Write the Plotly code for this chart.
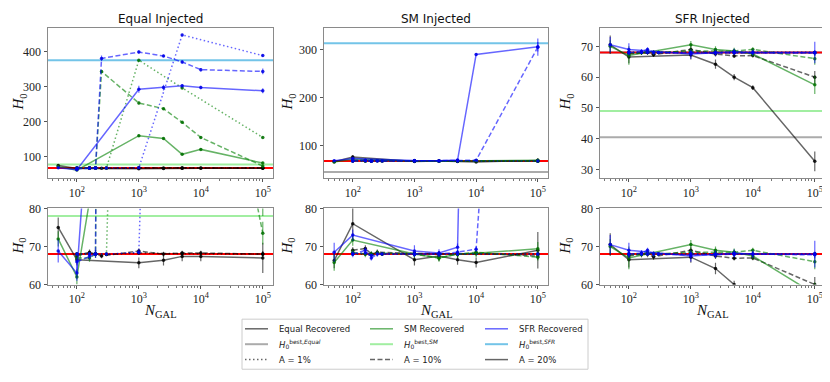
import plotly.graph_objects as go

# N_GAL sampled for each amplitude
N_A1 = [100, 160, 200, 300, 1000, 5000, 100000]
N_A10 = [100, 160, 200, 250, 1000, 2500, 5000, 10000, 100000]
N_A20 = [50, 100, 1000, 2500, 5000, 10000, 100000]

# ---- Equal injected
eq_equal_a1 = [68.0, 68.2, 68.0, 67.9, 68.3, 68.1, 68.0]
eq_equal_a1_err = [0.4, 0.4, 0.4, 0.4, 0.5, 0.4, 0.5]
eq_equal_a10 = [67.5, 68.5, 68.0, 67.5, 68.8, 68.0, 68.3, 68.3, 68.0]
eq_equal_a10_err = [0.8, 0.7, 0.6, 0.6, 0.7, 0.6, 0.6, 0.6, 0.8]
eq_equal_a20 = [75.0, 66.5, 65.7, 66.4, 67.4, 67.4, 67.0]
eq_equal_a20_err = [2.6, 1.5, 1.4, 1.4, 1.3, 1.3, 4.0]
eq_sm_a1 = [68.0, 68.0, 68.1, 68.0, 375.0, 296.0, 155.0]
eq_sm_a1_err = [0.4, 0.4, 0.4, 0.4, 3.0, 3.0, 3.0]
eq_sm_a10 = [67.0, 67.0, 68.0, 343.0, 253.0, 237.0, 198.0, 155.0, 73.5]
eq_sm_a10_err = [1.0, 1.0, 1.0, 4.0, 4.0, 3.0, 3.0, 3.0, 3.0]
eq_sm_a20 = [72.0, 62.0, 160.0, 152.0, 107.0, 121.0, 82.0]
eq_sm_a20_err = [2.0, 2.0, 4.0, 3.0, 3.0, 3.0, 4.0]
eq_sfr_a1 = [68.0, 68.1, 68.0, 68.0, 68.5, 447.0, 388.0]
eq_sfr_a1_err = [0.4, 0.4, 0.4, 0.4, 0.6, 3.0, 4.0]
eq_sfr_a10 = [66.0, 67.5, 68.0, 380.0, 398.0, 387.0, 370.0, 348.0, 343.0]
eq_sfr_a10_err = [1.0, 1.0, 1.0, 8.0, 5.0, 4.0, 5.0, 5.0, 8.0]
eq_sfr_a20 = [68.8, 63.0, 292.0, 297.0, 302.0, 297.0, 288.0]
eq_sfr_a20_err = [3.0, 2.0, 10.0, 8.0, 5.0, 5.0, 7.0]

# ---- SM injected
sm_equal_a1 = [68.2, 68.0, 67.8, 68.0, 68.0, 68.0, 68.0]
sm_equal_a1_err = [0.4, 0.4, 0.4, 0.4, 0.4, 0.4, 0.5]
sm_equal_a10 = [69.0, 69.5, 68.0, 68.5, 68.2, 68.0, 68.0, 68.2, 67.5]
sm_equal_a10_err = [0.8, 0.8, 0.7, 0.7, 0.7, 0.7, 0.7, 0.7, 0.9]
sm_equal_a20 = [66.3, 76.0, 66.5, 67.5, 66.5, 65.8, 69.0]
sm_equal_a20_err = [2.0, 4.5, 1.5, 1.3, 1.3, 1.3, 4.8]
sm_sm_a1 = [68.0, 68.1, 67.9, 68.0, 68.0, 68.0, 68.0]
sm_sm_a1_err = [0.4, 0.4, 0.4, 0.4, 0.4, 0.4, 0.5]
sm_sm_a10 = [68.5, 68.0, 68.0, 68.3, 68.0, 67.0, 68.0, 68.5, 67.2]
sm_sm_a10_err = [0.8, 0.8, 0.7, 0.7, 0.7, 0.7, 0.7, 0.7, 0.9]
sm_sm_a20 = [65.8, 71.7, 68.0, 67.0, 68.0, 68.2, 69.4]
sm_sm_a20_err = [2.2, 1.5, 1.0, 1.0, 1.0, 1.0, 1.8]
sm_sfr_a1 = [68.0, 68.3, 67.7, 68.0, 68.0, 68.0, 68.0]
sm_sfr_a1_err = [0.4, 0.4, 0.4, 0.4, 0.4, 0.4, 0.5]
sm_sfr_a10 = [68.0, 69.0, 67.0, 68.0, 68.0, 68.0, 68.5, 69.3, 305.0]
sm_sfr_a10_err = [0.8, 0.8, 0.7, 0.7, 0.7, 0.7, 0.7, 0.7, 18.0]
sm_sfr_a20 = [68.5, 73.0, 68.8, 68.3, 69.8, 290.0, 306.0]
sm_sfr_a20_err = [2.5, 1.5, 1.5, 1.0, 1.0, 3.0, 10.0]

# ---- SFR injected
sfr_equal_a1 = [68.0, 68.0, 68.1, 68.0, 68.0, 68.0, 68.0]
sfr_equal_a1_err = [0.4, 0.4, 0.4, 0.4, 0.4, 0.4, 0.5]
sfr_equal_a10 = [67.5, 68.0, 68.0, 67.3, 69.0, 67.5, 66.9, 67.0, 60.0]
sfr_equal_a10_err = [1.0, 0.8, 0.8, 0.8, 1.0, 0.8, 0.6, 0.6, 2.0]
sfr_equal_a20 = [70.5, 66.5, 67.2, 64.2, 60.0, 56.6, 32.7]
sfr_equal_a20_err = [3.0, 2.0, 1.5, 1.5, 1.0, 0.8, 3.2]
sfr_sm_a1 = [68.0, 68.0, 68.0, 68.0, 68.0, 68.0, 68.0]
sfr_sm_a1_err = [0.4, 0.4, 0.4, 0.4, 0.4, 0.4, 0.5]
sfr_sm_a10 = [67.8, 68.0, 68.5, 68.0, 68.5, 68.5, 68.5, 69.0, 66.0]
sfr_sm_a10_err = [0.8, 0.8, 0.7, 0.7, 0.7, 0.7, 0.7, 0.7, 2.0]
sfr_sm_a20 = [70.0, 67.0, 70.5, 69.0, 68.5, 67.5, 57.5]
sfr_sm_a20_err = [2.0, 3.0, 1.2, 1.0, 1.0, 1.0, 3.0]
sfr_sfr_a1 = [68.0, 68.0, 68.0, 68.0, 68.0, 68.0, 68.0]
sfr_sfr_a1_err = [0.4, 0.4, 0.4, 0.4, 0.4, 0.4, 0.5]
sfr_sfr_a10 = [68.0, 68.3, 69.0, 68.0, 67.8, 67.8, 68.0, 68.0, 67.8]
sfr_sfr_a10_err = [0.8, 0.8, 0.7, 0.7, 0.7, 0.7, 0.7, 0.7, 0.9]
sfr_sfr_a20 = [70.5, 69.0, 67.5, 68.0, 68.2, 68.0, 68.0]
sfr_sfr_a20_err = [2.5, 2.0, 1.5, 1.0, 1.0, 1.0, 3.5]

# best-fit H0 for each weighting, per injected panel, and the true value
h0_true = 68.0
h0_best_equal = [68.0, 45.0, 40.5]
h0_best_sm = [78.0, 68.0, 49.0]
h0_best_sfr = [375.0, 313.0, 68.0]

panel_titles = ["Equal Injected", "SM Injected", "SFR Injected"]
x_ticks = [100, 1000, 10000, 100000]
x_ticktext = ["10<sup>2</sup>", "10<sup>3</sup>", "10<sup>4</sup>", "10<sup>5</sup>"]
top_yticks = [[100, 200, 300, 400], [100, 200, 300], [30, 40, 50, 60, 70]]
bottom_yticks = [60, 70, 80]

panels = [
    {"equal": [(eq_equal_a1, eq_equal_a1_err), (eq_equal_a10, eq_equal_a10_err), (eq_equal_a20, eq_equal_a20_err)],
     "sm": [(eq_sm_a1, eq_sm_a1_err), (eq_sm_a10, eq_sm_a10_err), (eq_sm_a20, eq_sm_a20_err)],
     "sfr": [(eq_sfr_a1, eq_sfr_a1_err), (eq_sfr_a10, eq_sfr_a10_err), (eq_sfr_a20, eq_sfr_a20_err)]},
    {"equal": [(sm_equal_a1, sm_equal_a1_err), (sm_equal_a10, sm_equal_a10_err), (sm_equal_a20, sm_equal_a20_err)],
     "sm": [(sm_sm_a1, sm_sm_a1_err), (sm_sm_a10, sm_sm_a10_err), (sm_sm_a20, sm_sm_a20_err)],
     "sfr": [(sm_sfr_a1, sm_sfr_a1_err), (sm_sfr_a10, sm_sfr_a10_err), (sm_sfr_a20, sm_sfr_a20_err)]},
    {"equal": [(sfr_equal_a1, sfr_equal_a1_err), (sfr_equal_a10, sfr_equal_a10_err), (sfr_equal_a20, sfr_equal_a20_err)],
     "sm": [(sfr_sm_a1, sfr_sm_a1_err), (sfr_sm_a10, sfr_sm_a10_err), (sfr_sm_a20, sfr_sm_a20_err)],
     "sfr": [(sfr_sfr_a1, sfr_sfr_a1_err), (sfr_sfr_a10, sfr_sfr_a10_err), (sfr_sfr_a20, sfr_sfr_a20_err)]},
]

# the page body has an 8px margin, so the figure is 8px smaller and everything is shifted by it
OFF = 8
W, H = 830 - OFF, 382 - OFF
COLS_PX = [(48, 273), (324, 548), (600, 825)]
YLABEL_PX = [19, 288, 566]
TOP_PX = (21, 177)
BOT_PX = (209, 288)
TOP_RANGES = [[40.5, 468], [33, 346], [27.4, 76.1]]

LINE_COL = {"equal": "rgba(0,0,0,0.6)", "sm": "rgba(0,128,0,0.6)", "sfr": "rgba(0,0,255,0.6)"}
MARK_COL = {"equal": "rgba(0,0,0,0.85)", "sm": "rgba(0,110,0,0.85)", "sfr": "rgba(0,0,230,0.85)"}
GRAY_BEST, GREEN_BEST, BLUE_BEST = "rgba(150,150,150,0.8)", "rgba(130,232,130,0.75)", "rgba(100,190,230,0.9)"
DASHES = ["1.5px,2.5px", "5px,2.5px", "solid"]
NS = [N_A1, N_A10, N_A20]
SERIF = "Liberation Serif"
SANS = "DejaVu Sans"


def px_x(p):
    return (p - OFF) / W


def px_y(p):
    return 1 - (p - OFF) / H


fig = go.Figure()
layout = {}

minor_vals = [m * 10 ** d for d in range(1, 6) for m in range(2, 10)]

for col in range(3):
    for row in range(2):
        idx = col + 1 + 3 * row
        sfx = "" if idx == 1 else str(idx)
        xa, ya = "xaxis" + sfx, "yaxis" + sfx
        ypx = TOP_PX if row == 0 else BOT_PX
        common = dict(showline=True, mirror=True, linecolor="#8a8a8a", linewidth=1,
                      ticks="outside", ticklen=3.5, tickcolor="#555", showgrid=False,
                      zeroline=False, tickfont=dict(family=SERIF, size=12, color="#222"))
        layout[xa] = dict(common, type="log", range=[1.534, 5.165],
                          domain=[px_x(COLS_PX[col][0]), px_x(COLS_PX[col][1])],
                          anchor="y" + sfx, tickvals=x_ticks, ticktext=x_ticktext,
                          minor=dict(ticks="outside", ticklen=2, tickcolor="#777", tickvals=minor_vals))
        if row == 0:
            yr, yt = TOP_RANGES[col], top_yticks[col]
        else:
            yr, yt = [60, 80], bottom_yticks
        layout[ya] = dict(common, range=yr, tickvals=yt, ticktext=[str(v) for v in yt],
                          domain=[px_y(ypx[1]), px_y(ypx[0])], anchor="x" + sfx)

        xref, yref = "x" + sfx, "y" + sfx
        hl = [(h0_best_equal[col], GRAY_BEST), (h0_best_sm[col], GREEN_BEST),
              (h0_best_sfr[col], BLUE_BEST), (h0_true, "red")]
        for val, c in hl:
            fig.add_shape(type="line", xref=xref + " domain", yref=yref, x0=0, x1=1, y0=val, y1=val,
                          line=dict(color=c, width=2), layer="below")

        for kind in ["equal", "sm", "sfr"]:
            for a in range(3):
                vals, errs = panels[col][kind][a]
                fig.add_trace(go.Scatter(
                    x=NS[a], y=vals, mode="lines+markers", xaxis=xref, yaxis=yref,
                    line=dict(color=LINE_COL[kind], width=1.5, dash=DASHES[a]),
                    marker=dict(color=MARK_COL[kind], size=3.5),
                    error_y=dict(type="data", array=errs, thickness=1.2, width=0, color=LINE_COL[kind]),
                    showlegend=False, cliponaxis=True))

# legend, three columns inside one box
legend_cols = [
    [("Equal Recovered", LINE_COL["equal"], "solid", 1.5),
     ("<i>H</i><sub>0</sub><sup>best,<i>Equal</i></sup>", GRAY_BEST, "solid", 2),
     ("A = 1%", "rgba(0,0,0,0.6)", DASHES[0], 1.5)],
    [("SM Recovered", LINE_COL["sm"], "solid", 1.5),
     ("<i>H</i><sub>0</sub><sup>best,<i>SM</i></sup>", GREEN_BEST, "solid", 2),
     ("A = 10%", "rgba(0,0,0,0.6)", DASHES[1], 1.5)],
    [("SFR Recovered", LINE_COL["sfr"], "solid", 1.5),
     ("<i>H</i><sub>0</sub><sup>best,<i>SFR</i></sup>", BLUE_BEST, "solid", 2),
     ("A = 20%", "rgba(0,0,0,0.6)", "solid", 1.5)],
]
legend_x_px = [245, 370, 485]
legend_rows_px = [334, 350, 366]

fig.add_shape(type="rect", xref="paper", yref="paper", x0=px_x(242), x1=px_x(588),
              y0=px_y(376), y1=px_y(324), line=dict(color="#cccccc", width=1))

annotations = []
for i, entries in enumerate(legend_cols):
    for j, (name, c, dash, w) in enumerate(entries):
        yy = px_y(legend_rows_px[j])
        fig.add_shape(type="line", xref="paper", yref="paper", x0=px_x(legend_x_px[i]),
                      x1=px_x(legend_x_px[i] + 23), y0=yy, y1=yy, line=dict(color=c, dash=dash, width=w))
        annotations.append(dict(text=name, x=px_x(legend_x_px[i] + 32), y=yy, xref="paper", yref="paper",
                                xanchor="left", yanchor="middle", showarrow=False,
                                font=dict(family=SANS, size=8.5, color="#222")))

for col in range(3):
    cx = (COLS_PX[col][0] + COLS_PX[col][1]) / 2
    annotations.append(dict(text=panel_titles[col], x=px_x(cx), y=px_y(12), xref="paper", yref="paper",
                            xanchor="center", yanchor="middle", showarrow=False,
                            font=dict(family=SANS, size=12, color="#111")))
    for ymid in [(TOP_PX[0] + TOP_PX[1]) / 2, (BOT_PX[0] + BOT_PX[1]) / 2]:
        annotations.append(dict(text="<i>H</i><sub>0</sub>", x=px_x(YLABEL_PX[col]), y=px_y(ymid),
                                xref="paper", yref="paper", xanchor="center", yanchor="middle",
                                showarrow=False, textangle=-90,
                                font=dict(family=SERIF, size=15, color="#111")))
    annotations.append(dict(text="<i>N</i><sub>GAL</sub>", x=px_x(cx), y=px_y(315), xref="paper", yref="paper",
                            xanchor="center", yanchor="middle", showarrow=False,
                            font=dict(family=SERIF, size=15, color="#111")))

fig.update_layout(width=W, height=H, margin=dict(l=0, r=0, t=0, b=0),
                  plot_bgcolor="white", paper_bgcolor="white", showlegend=False,
                  annotations=annotations, **layout)

fig.write_html("out.html")
